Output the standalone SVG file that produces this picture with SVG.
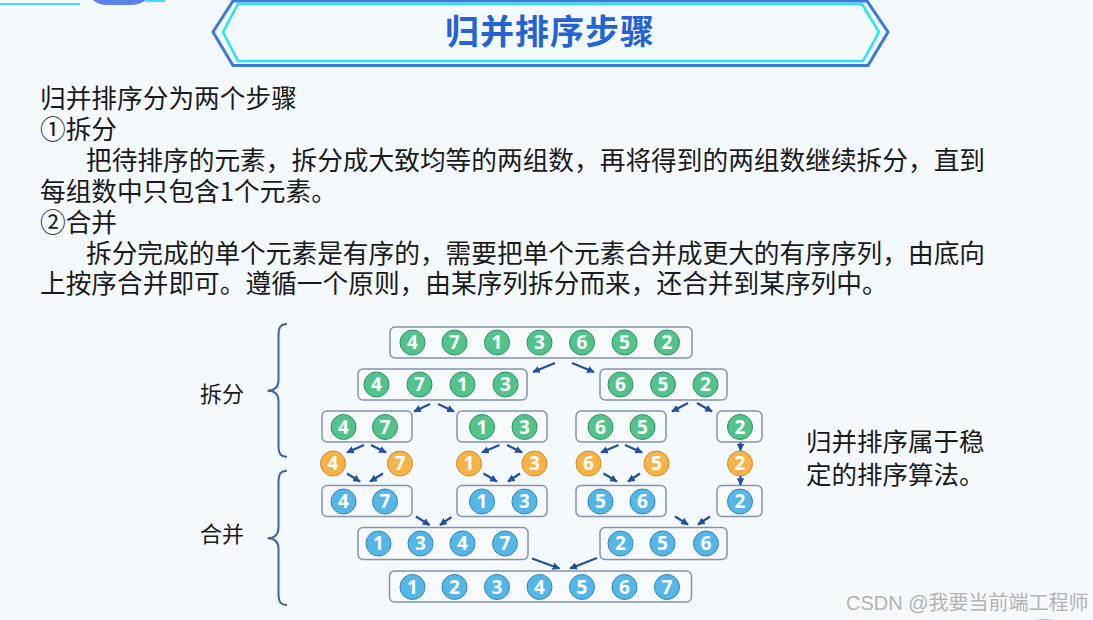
<svg xmlns="http://www.w3.org/2000/svg" width="1093" height="620" viewBox="0 0 1093 620">
<defs>
<style>
.cjk{font-family:"Noto Sans CJK SC","Noto Sans",sans-serif;fill:#1a1a1a}
.box{fill:#f7fafd;stroke:#8494ad;stroke-width:1.5}
.g{fill:#52c48b;stroke:#2f8f63;stroke-width:1}
.o{fill:#f8b24a;stroke:#cf8a25;stroke-width:1}
.b{fill:#55b6e8;stroke:#3583b8;stroke-width:1}
.d{font-family:"Open Sans","Noto Sans",sans-serif;font-weight:700;font-size:19px;fill:#fff;text-anchor:middle}
.arr line{stroke:#22509c;stroke-width:2.2;marker-end:url(#ah)}
.brace{fill:none;stroke:#3b64ad;stroke-width:2}
</style>
<marker id="ah" viewBox="0 0 10 10" refX="9" refY="5" markerWidth="7.5" markerHeight="7.5" markerUnits="userSpaceOnUse" orient="auto">
<path d="M0,0 L10,5 L0,10 Z" fill="#22509c"/>
</marker>
</defs>
<rect width="1093" height="620" fill="#f4f9fd"/>

<g id="decor">
<line x1="0" y1="4" x2="80" y2="4" stroke="#3fe0f5" stroke-width="2"/>
<path d="M93,0 L146,0 Q140,5 130,5 L108,5 Q98,5 93,0 Z" fill="#5a82e6"/>
<line x1="146" y1="1" x2="165" y2="1" stroke="#3fe0f5" stroke-width="2"/>
<ellipse cx="1045" cy="627" rx="20" ry="8" fill="#7fd0f5"/>
</g>

<g id="title">
<polygon points="233,1 867,1 888,32 868,65.5 233,65.5 213,32" fill="none" stroke="#3a7bd5" stroke-width="3"/>
<polygon points="238,4 862,4 879,32 863,61 238,61 223,32" fill="none" stroke="#22e6f3" stroke-width="2.5"/>
<polygon points="239,6.5 860,6.5 876,32 861,58.5 239,58.5 226,32" fill="none" stroke="#ffffff" stroke-width="1"/>
<text x="550" y="44" text-anchor="middle" font-family="Noto Sans CJK SC, sans-serif" font-weight="700" font-size="34" letter-spacing="1" fill="#2463d1">归并排序步骤</text>
</g>

<g id="body">
<text class="cjk" font-size="25.7"><tspan x="40" y="108">归并排序分为两个步骤</tspan><tspan x="40" y="139">①拆分</tspan><tspan x="86" y="170">把待排序的元素，拆分成大致均等的两组数，再将得到的两组数继续拆分，直到</tspan><tspan x="40" y="201">每组数中只包含1个元素。</tspan><tspan x="40" y="232">②合并</tspan><tspan x="86" y="263">拆分完成的单个元素是有序的，需要把单个元素合并成更大的有序序列，由底向</tspan><tspan x="40" y="293">上按序合并即可。遵循一个原则，由某序列拆分而来，还合并到某序列中。</tspan></text>
</g>

<g id="labels" class="cjk" font-size="22">
<text x="200" y="402">拆分</text>
<text x="200" y="542">合并</text>
</g>
<g id="braces">
<path class="brace" d="M287,324 C280,324 278.5,328 278.5,336 L278.5,380 C278.5,387 275,390.7 267.5,390.7 C275,390.7 278.5,394 278.5,401 L278.5,445 C278.5,453 280,456.7 287,456.7"/>
<path class="brace" d="M287,470.7 C280,470.7 278.5,475 278.5,483 L278.5,527 C278.5,534 275,538.3 267.5,538.3 C275,538.3 278.5,542 278.5,549 L278.5,593 C278.5,601 280,605 287,605"/>
</g>

<g id="note">
<text class="cjk" font-size="25.5"><tspan x="806" y="451">归并排序属于稳</tspan><tspan x="806" y="484">定的排序算法。</tspan></text>
</g>

<g id="row1">
<rect class="box" x="390" y="327" width="302" height="31" rx="5"/>
<circle class="g" cx="412.5" cy="342.5" r="12.5"/><text class="d" x="412.5" y="342.5" dy="0.36em">4</text>
<circle class="g" cx="454.5" cy="342.5" r="12.5"/><text class="d" x="454.5" y="342.5" dy="0.36em">7</text>
<circle class="g" cx="497" cy="342.5" r="12.5"/><text class="d" x="497" y="342.5" dy="0.36em">1</text>
<circle class="g" cx="539.5" cy="342.5" r="12.5"/><text class="d" x="539.5" y="342.5" dy="0.36em">3</text>
<circle class="g" cx="582" cy="342.5" r="12.5"/><text class="d" x="582" y="342.5" dy="0.36em">6</text>
<circle class="g" cx="624.5" cy="342.5" r="12.5"/><text class="d" x="624.5" y="342.5" dy="0.36em">5</text>
<circle class="g" cx="667" cy="342.5" r="12.5"/><text class="d" x="667" y="342.5" dy="0.36em">2</text>
</g>

<g id="row2-left">
<rect class="box" x="358" y="369" width="169" height="31" rx="5"/>
<circle class="g" cx="376.5" cy="384.5" r="12.5"/><text class="d" x="376.5" y="384.5" dy="0.36em">4</text>
<circle class="g" cx="419.5" cy="384.5" r="12.5"/><text class="d" x="419.5" y="384.5" dy="0.36em">7</text>
<circle class="g" cx="462.5" cy="384.5" r="12.5"/><text class="d" x="462.5" y="384.5" dy="0.36em">1</text>
<circle class="g" cx="505.5" cy="384.5" r="12.5"/><text class="d" x="505.5" y="384.5" dy="0.36em">3</text>
</g>
<g id="row2-right">
<rect class="box" x="600" y="369" width="127" height="31" rx="5"/>
<circle class="g" cx="620.5" cy="384.5" r="12.5"/><text class="d" x="620.5" y="384.5" dy="0.36em">6</text>
<circle class="g" cx="663" cy="384.5" r="12.5"/><text class="d" x="663" y="384.5" dy="0.36em">5</text>
<circle class="g" cx="705.5" cy="384.5" r="12.5"/><text class="d" x="705.5" y="384.5" dy="0.36em">2</text>
</g>

<g id="row3-a">
<rect class="box" x="322" y="411" width="90" height="31" rx="5"/>
<circle class="g" cx="343.5" cy="427" r="12.5"/><text class="d" x="343.5" y="427" dy="0.36em">4</text>
<circle class="g" cx="385" cy="427" r="12.5"/><text class="d" x="385" y="427" dy="0.36em">7</text>
</g>
<g id="row3-b">
<rect class="box" x="457" y="411" width="90" height="31" rx="5"/>
<circle class="g" cx="482" cy="427" r="12.5"/><text class="d" x="482" y="427" dy="0.36em">1</text>
<circle class="g" cx="524.5" cy="427" r="12.5"/><text class="d" x="524.5" y="427" dy="0.36em">3</text>
</g>
<g id="row3-c">
<rect class="box" x="576" y="411" width="90" height="31" rx="5"/>
<circle class="g" cx="600.5" cy="427" r="12.5"/><text class="d" x="600.5" y="427" dy="0.36em">6</text>
<circle class="g" cx="642.5" cy="427" r="12.5"/><text class="d" x="642.5" y="427" dy="0.36em">5</text>
</g>
<g id="row3-d">
<rect class="box" x="717" y="411" width="45" height="31" rx="5"/>
<circle class="g" cx="740" cy="427" r="12.5"/><text class="d" x="740" y="427" dy="0.36em">2</text>
</g>

<g id="single-4"><circle class="o" cx="333" cy="463.5" r="12.5"/><text class="d" x="333" y="463.5" dy="0.36em">4</text></g>
<g id="single-7"><circle class="o" cx="400" cy="463.5" r="12.5"/><text class="d" x="400" y="463.5" dy="0.36em">7</text></g>
<g id="single-1"><circle class="o" cx="469" cy="463.5" r="12.5"/><text class="d" x="469" y="463.5" dy="0.36em">1</text></g>
<g id="single-3"><circle class="o" cx="534.5" cy="463.5" r="12.5"/><text class="d" x="534.5" y="463.5" dy="0.36em">3</text></g>
<g id="single-6"><circle class="o" cx="588.5" cy="463.5" r="12.5"/><text class="d" x="588.5" y="463.5" dy="0.36em">6</text></g>
<g id="single-5"><circle class="o" cx="656.5" cy="463.5" r="12.5"/><text class="d" x="656.5" y="463.5" dy="0.36em">5</text></g>
<g id="single-2"><circle class="o" cx="740" cy="463.5" r="12.5"/><text class="d" x="740" y="463.5" dy="0.36em">2</text></g>

<g id="row5-a">
<rect class="box" x="322" y="485.5" width="90" height="31" rx="5"/>
<circle class="b" cx="343.5" cy="501.5" r="12.5"/><text class="d" x="343.5" y="501.5" dy="0.36em">4</text>
<circle class="b" cx="385" cy="501.5" r="12.5"/><text class="d" x="385" y="501.5" dy="0.36em">7</text>
</g>
<g id="row5-b">
<rect class="box" x="457" y="485.5" width="90" height="31" rx="5"/>
<circle class="b" cx="482" cy="501.5" r="12.5"/><text class="d" x="482" y="501.5" dy="0.36em">1</text>
<circle class="b" cx="524.5" cy="501.5" r="12.5"/><text class="d" x="524.5" y="501.5" dy="0.36em">3</text>
</g>
<g id="row5-c">
<rect class="box" x="576" y="485.5" width="90" height="31" rx="5"/>
<circle class="b" cx="600.5" cy="501.5" r="12.5"/><text class="d" x="600.5" y="501.5" dy="0.36em">5</text>
<circle class="b" cx="642.5" cy="501.5" r="12.5"/><text class="d" x="642.5" y="501.5" dy="0.36em">6</text>
</g>
<g id="row5-d">
<rect class="box" x="717" y="485.5" width="45" height="31" rx="5"/>
<circle class="b" cx="740" cy="501.5" r="12.5"/><text class="d" x="740" y="501.5" dy="0.36em">2</text>
</g>

<g id="row6-left">
<rect class="box" x="358" y="527.5" width="170" height="32" rx="5"/>
<circle class="b" cx="378.5" cy="543.5" r="12.5"/><text class="d" x="378.5" y="543.5" dy="0.36em">1</text>
<circle class="b" cx="420.5" cy="543.5" r="12.5"/><text class="d" x="420.5" y="543.5" dy="0.36em">3</text>
<circle class="b" cx="462.5" cy="543.5" r="12.5"/><text class="d" x="462.5" y="543.5" dy="0.36em">4</text>
<circle class="b" cx="505" cy="543.5" r="12.5"/><text class="d" x="505" y="543.5" dy="0.36em">7</text>
</g>
<g id="row6-right">
<rect class="box" x="600" y="527.5" width="127" height="32" rx="5"/>
<circle class="b" cx="620.5" cy="543.5" r="12.5"/><text class="d" x="620.5" y="543.5" dy="0.36em">2</text>
<circle class="b" cx="662.5" cy="543.5" r="12.5"/><text class="d" x="662.5" y="543.5" dy="0.36em">5</text>
<circle class="b" cx="706" cy="543.5" r="12.5"/><text class="d" x="706" y="543.5" dy="0.36em">6</text>
</g>

<g id="row7">
<rect class="box" x="389.5" y="571" width="302" height="31" rx="5"/>
<circle class="b" cx="412.5" cy="587" r="12.5"/><text class="d" x="412.5" y="587" dy="0.36em">1</text>
<circle class="b" cx="454.5" cy="587" r="12.5"/><text class="d" x="454.5" y="587" dy="0.36em">2</text>
<circle class="b" cx="497" cy="587" r="12.5"/><text class="d" x="497" y="587" dy="0.36em">3</text>
<circle class="b" cx="539.5" cy="587" r="12.5"/><text class="d" x="539.5" y="587" dy="0.36em">4</text>
<circle class="b" cx="582" cy="587" r="12.5"/><text class="d" x="582" y="587" dy="0.36em">5</text>
<circle class="b" cx="624.5" cy="587" r="12.5"/><text class="d" x="624.5" y="587" dy="0.36em">6</text>
<circle class="b" cx="667" cy="587" r="12.5"/><text class="d" x="667" y="587" dy="0.36em">7</text>
</g>

<g id="connectors" class="arr">
<line x1="555" y1="363" x2="533" y2="372"/>
<line x1="572" y1="363" x2="594" y2="372"/>
<line x1="430" y1="404" x2="414" y2="411.5"/>
<line x1="438" y1="404" x2="454" y2="411.5"/>
<line x1="688" y1="403" x2="672" y2="411.5"/>
<line x1="697" y1="403" x2="712" y2="411.5"/>
<line x1="364" y1="445" x2="347" y2="452.5"/>
<line x1="371" y1="445" x2="386" y2="452.5"/>
<line x1="499.5" y1="445" x2="482" y2="452.5"/>
<line x1="507" y1="445" x2="522" y2="452.5"/>
<line x1="618.5" y1="445" x2="601" y2="452.5"/>
<line x1="625" y1="445" x2="642" y2="452.5"/>
<line x1="740.5" y1="442.5" x2="740.5" y2="450.5"/>
<line x1="347" y1="473.5" x2="360" y2="481.5"/>
<line x1="383" y1="473.5" x2="370" y2="481.5"/>
<line x1="483.5" y1="473.5" x2="497" y2="481.5"/>
<line x1="520" y1="473.5" x2="508" y2="481.5"/>
<line x1="603.5" y1="473.5" x2="617" y2="481.5"/>
<line x1="640" y1="473.5" x2="628" y2="481.5"/>
<line x1="740.5" y1="476" x2="740.5" y2="485"/>
<line x1="416" y1="516.5" x2="429.5" y2="525"/>
<line x1="451.5" y1="517" x2="440" y2="525"/>
<line x1="675" y1="516.5" x2="688" y2="524.5"/>
<line x1="710" y1="516.5" x2="698" y2="524.5"/>
<line x1="532" y1="558.5" x2="559.5" y2="568.5"/>
<line x1="597" y1="558" x2="570" y2="568.5"/>
</g>

<text x="846" y="610" font-family="Liberation Sans, Noto Sans CJK SC, sans-serif" font-size="20" fill="#b3b3b3">CSDN @我要当前端工程师</text>
</svg>
